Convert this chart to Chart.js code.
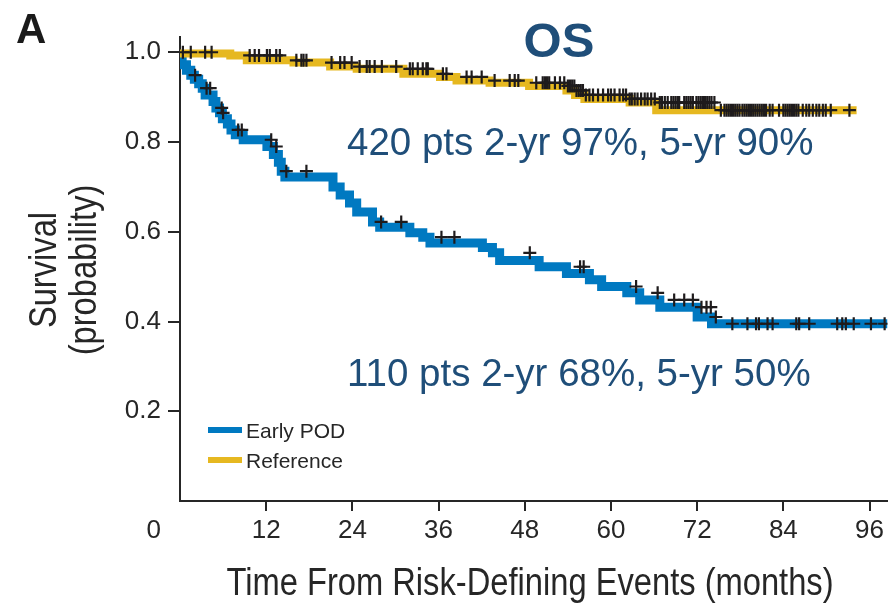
<!DOCTYPE html>
<html>
<head>
<meta charset="utf-8">
<script src="https://cdn.jsdelivr.net/npm/chart.js@4.4.1/dist/chart.umd.min.js"></script>
<style>
  html, body { margin: 0; padding: 0; background: #ffffff; }
  #wrap { width: 888px; height: 605px; position: relative; }
</style>
</head>
<body>
<div id="wrap"><canvas id="km" width="888" height="605"></canvas></div>
<script>
// Kaplan-Meier overall survival, early progression vs. reference group.
// Step curves: time (months) at which survival changes, and the new survival value.
const earlyPodTimes = [0, 0.3, 0.9, 1.5, 2.0, 2.6, 3.1, 3.5, 4.6, 5.0, 5.5, 5.9, 6.6, 7.1, 7.7, 8.8,
  12.1, 13.0, 13.7, 14.1, 14.6, 21.3, 22.3, 23.6, 24.6, 26.8, 27.8, 32.0, 33.8, 34.8, 42.1, 43.5,
  44.5, 50.0, 53.8, 57.0, 58.7, 62.2, 64.0, 66.8, 72.0, 74.0, 76.0, 98.5];
const earlyPodSurvival = [1.0, 0.985, 0.972, 0.96, 0.949, 0.94, 0.93, 0.92, 0.905, 0.89, 0.876, 0.865, 0.852, 0.84, 0.827, 0.816,
  0.805, 0.79, 0.772, 0.755, 0.735, 0.722, 0.70, 0.682, 0.664, 0.644, 0.622, 0.61, 0.598, 0.588, 0.575, 0.565,
  0.553, 0.536, 0.522, 0.507, 0.493, 0.478, 0.464, 0.448, 0.432, 0.41, 0.395, 0.395];

const referenceTimes = [0, 7.0, 9.3, 15.8, 20.9, 24.6, 31.1, 36.2, 38.5, 43.1, 48.6, 53.8, 55.0, 56.3, 62.6, 66.3, 74.7, 94.2];
const referenceSurvival = [1.0, 0.997, 0.993, 0.982, 0.977, 0.968, 0.963, 0.952, 0.945, 0.937, 0.932, 0.925, 0.915, 0.905, 0.896, 0.888, 0.871, 0.871];

// Censoring times (months)
const earlyPodCensored = [2.1, 3.7, 4.2, 5.8, 6.0, 8.1, 8.6, 12.7, 13.4, 14.8, 17.6, 28.0, 30.8, 36.4, 38.2,
  48.7, 55.7, 56.2, 63.5, 66.5, 68.8, 70.2, 71.4, 72.6, 73.3, 73.9, 74.6, 76.9, 79.0, 80.2, 80.6, 81.8,
  82.5, 85.8, 86.2, 87.6, 91.5, 92.2, 92.7, 93.8, 96.2, 98.1];
const referenceCensored = [0.4, 1.5, 3.5, 4.4, 9.7, 10.4, 11.0, 12.1, 12.5, 13.4, 13.9, 16.2, 16.9, 17.2, 17.6,
  21.1, 22.3, 22.9, 23.9, 25.0, 26.0, 26.4, 27.1, 28.1, 30.1, 32.0, 32.4, 33.1, 33.8, 34.3, 34.5, 36.6, 37.1,
  39.9, 40.6, 42.0, 43.8, 45.9, 46.6, 47.1, 49.6, 50.5, 50.8, 51.1, 51.4, 52.2, 52.9, 53.5, 54.0, 54.3, 54.6,
  54.9, 55.2, 55.5, 55.8, 56.1, 56.5, 57.0, 57.5, 58.2, 58.9, 59.6, 60.0, 60.5, 61.2, 61.7, 62.1, 62.6, 62.9,
  63.3, 63.7, 64.2, 64.7, 65.1, 65.6, 66.1, 66.8, 67.1, 67.5, 67.9, 68.4, 68.7, 69.0, 69.3, 69.5, 70.2, 70.5,
  70.8, 71.1, 71.4, 71.9, 72.2, 72.5, 72.8, 73.1, 73.4, 73.7, 74.0, 74.4, 75.3, 75.8, 76.1, 76.4, 76.7, 77.0,
  77.3, 77.6, 77.9, 78.3, 78.6, 78.9, 79.2, 79.5, 79.8, 80.1, 80.4, 80.7, 81.0, 81.3, 81.6, 82.1, 82.5, 83.4,
  84.0, 84.3, 84.6, 84.9, 85.2, 85.5, 85.8, 86.1, 86.7, 87.2, 87.6, 88.1, 88.6, 89.0, 89.5, 89.9, 90.6, 93.2];

// Axis ticks and labels
const xTicks = [12, 24, 36, 48, 60, 72, 84, 96];
const yTicks = [0.2, 0.4, 0.6, 0.8, 1.0];
const seriesNames = ['Early POD', 'Reference'];
const panelLabel = 'A';
const panelTitle = 'OS';
const summaryLines = ['420 pts 2-yr 97%, 5-yr 90%', '110 pts 2-yr 68%, 5-yr 50%'];
const xTitle = 'Time From Risk-Defining Events (months)';
const yTitle = ['Survival', '(probability)'];

const BLUE = '#0079c1';
const GOLD = '#e6b820';
const INK = '#262626';
const NAVY = '#1f4e79';
const SANS = '"Liberation Sans", Arial, sans-serif';

const toPoints = (ts, vs) => ts.map((t, i) => ({ x: t, y: vs[i] }));
// survival value in effect at time t (step lookup)
function survivalAt(ts, vs, t) {
  let v = vs[0];
  for (let i = 0; i < ts.length; i++) { if (ts[i] <= t) v = vs[i]; else break; }
  return v;
}
const censorPoints = (cs, ts, vs) => cs.map(t => ({ x: t, y: survivalAt(ts, vs, t) }));

// condensed text: squeeze glyphs horizontally along the baseline
function condensedText(ctx, text, x, y, angle, squeeze) {
  ctx.save();
  ctx.translate(x, y);
  ctx.rotate(angle);
  ctx.scale(squeeze, 1);
  ctx.fillText(text, 0, 0);
  ctx.restore();
}

const overlay = {
  id: 'overlay',
  afterDraw(chart) {
    const ctx = chart.ctx;
    const area = chart.chartArea;
    ctx.save();
    // panel letter
    ctx.fillStyle = '#1a1a1a';
    ctx.font = 'bold 42px ' + SANS;
    ctx.textAlign = 'left';
    ctx.textBaseline = 'alphabetic';
    ctx.fillText(panelLabel, 16, 43);
    // panel title
    ctx.fillStyle = NAVY;
    ctx.font = 'bold 49px ' + SANS;
    ctx.textAlign = 'center';
    ctx.fillText(panelTitle, 559, 57);
    // summaries
    ctx.font = '38.5px ' + SANS;
    ctx.textAlign = 'left';
    ctx.fillText(summaryLines[0], 347, 155);
    ctx.fillText(summaryLines[1], 347, 386);
    // axis titles
    ctx.fillStyle = INK;
    ctx.font = '38px ' + SANS;
    ctx.textAlign = 'center';
    condensedText(ctx, xTitle, 530, 595, 0, 0.86);
    const midY = (area.top + area.bottom) / 2;
    condensedText(ctx, yTitle[0], 56, midY + 1, -Math.PI / 2, 0.86);
    condensedText(ctx, yTitle[1], 96, midY + 1, -Math.PI / 2, 0.86);
    // origin label shared by both axes
    ctx.font = '26px ' + SANS;
    ctx.textAlign = 'right';
    ctx.fillText('0', 161, 538);
    // legend
    const colors = [BLUE, GOLD];
    const rows = [430, 460];
    ctx.font = '21px ' + SANS;
    ctx.textAlign = 'left';
    seriesNames.forEach((name, i) => {
      ctx.fillStyle = colors[i];
      ctx.fillRect(208, rows[i] - 3, 34, 6);
      ctx.fillStyle = INK;
      ctx.fillText(name, 246, rows[i] + 8);
    });
    ctx.restore();
  }
};

const censorStyle = {
  type: 'scatter',
  pointStyle: 'cross', pointRadius: 6.5, pointBorderWidth: 2.2,
  pointBorderColor: '#1e1b1c', pointBackgroundColor: '#1e1b1c',
  order: 0
};

new Chart(document.getElementById('km'), {
  type: 'line',
  data: {
    datasets: [
      Object.assign({ label: 'Early POD censored',
        data: censorPoints(earlyPodCensored, earlyPodTimes, earlyPodSurvival) }, censorStyle),
      Object.assign({ label: 'Reference censored',
        data: censorPoints(referenceCensored, referenceTimes, referenceSurvival) }, censorStyle),
      {
        label: seriesNames[1],
        data: toPoints(referenceTimes, referenceSurvival),
        stepped: 'after',
        borderColor: GOLD, borderWidth: 8, pointRadius: 0,
        borderJoinStyle: 'miter', borderCapStyle: 'butt', fill: false,
        order: 1
      },
      {
        label: seriesNames[0],
        data: toPoints(earlyPodTimes, earlyPodSurvival),
        stepped: 'after',
        borderColor: BLUE, borderWidth: 9, pointRadius: 0,
        borderJoinStyle: 'miter', borderCapStyle: 'butt', fill: false,
        order: 2
      }
    ]
  },
  options: {
    responsive: false,
    animation: false,
    devicePixelRatio: 1,
    layout: { padding: { top: 37, right: 0, bottom: 0, left: 0 }, autoPadding: false },
    plugins: { legend: { display: false }, tooltip: { enabled: false } },
    scales: {
      x: {
        type: 'linear', min: 0, max: 98.5,
        afterBuildTicks: s => { s.ticks = xTicks.map(v => ({ value: v })); },
        afterFit: s => { s.height = 104; },
        grid: { display: true, drawOnChartArea: false, drawTicks: true, tickLength: 10, color: INK, lineWidth: 2 },
        border: { display: true, color: INK, width: 2 },
        ticks: { color: INK, font: { family: SANS, size: 26 }, padding: 4, maxRotation: 0, autoSkip: false },
        title: { display: false, text: xTitle }
      },
      y: {
        type: 'linear', min: 0, max: 1.034,
        afterBuildTicks: s => { s.ticks = yTicks.map(v => ({ value: v })); },
        afterFit: s => { s.width = 180; },
        grid: { display: true, drawOnChartArea: false, drawTicks: true, tickLength: 12, color: INK, lineWidth: 2 },
        border: { display: true, color: INK, width: 2 },
        ticks: { color: INK, font: { family: SANS, size: 26 }, padding: 7,
          callback: v => v.toFixed(1) },
        title: { display: false, text: yTitle }
      }
    }
  },
  plugins: [overlay]
});
</script>
</body>
</html>
